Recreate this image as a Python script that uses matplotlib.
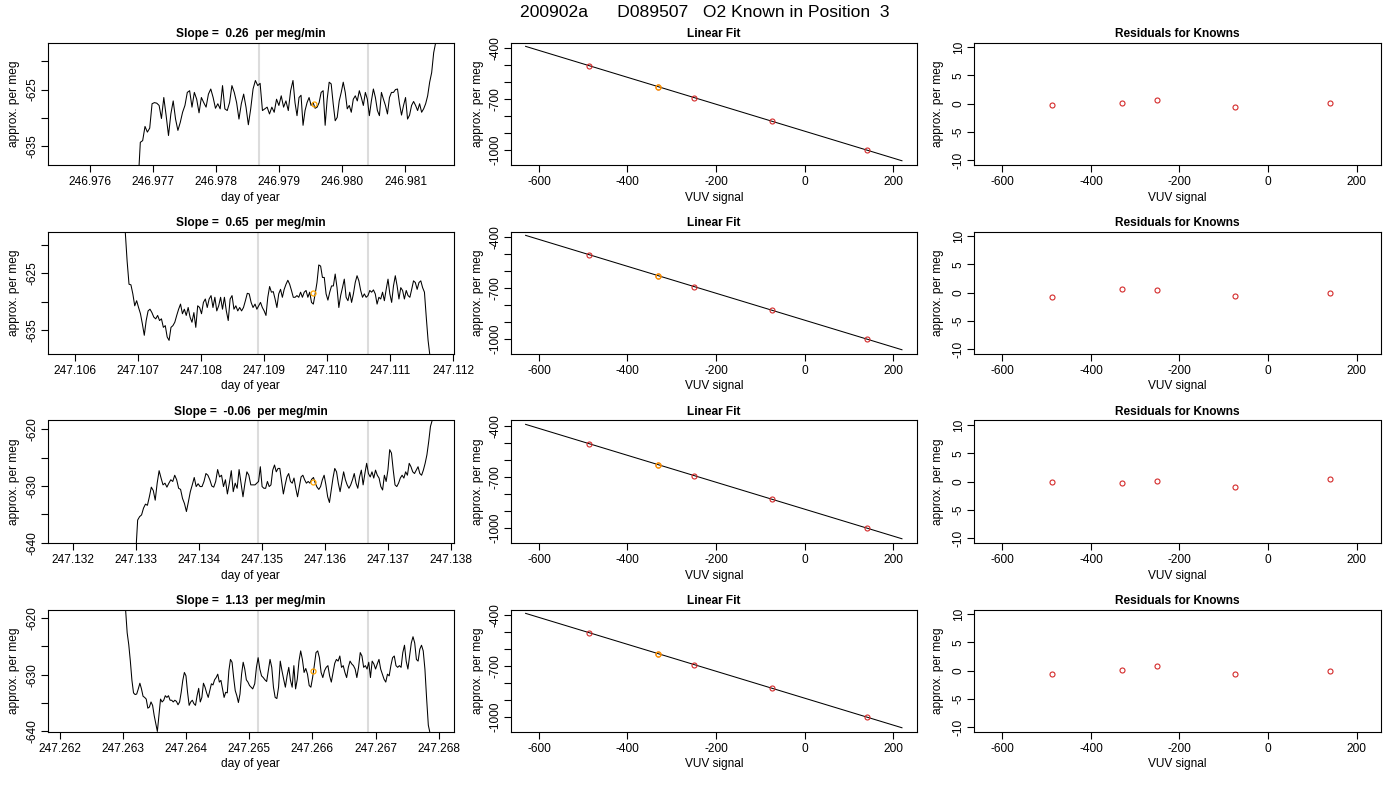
import numpy as np
import matplotlib
matplotlib.use("Agg")
import matplotlib.pyplot as plt
from matplotlib import ticker

plt.rcParams['font.family'] = ['Liberation Sans', 'DejaVu Sans']
plt.rcParams['axes.unicode_minus'] = False

# ---------------- data ----------------
main_title = "200902a      D089507   O2 Known in Position  3"
slopes = ["0.26", "0.65", "-0.06", "1.13"]

# time-series of approx. per meg (two sampled segments per row)
r1_A = [-642.0, -634.3, -634.0, -631.5, -632.5, -631.8, -627.5, -627.3, -627.4, -627.8,
        -630.1, -626.4, -629.6, -633.1, -629.3, -627.0, -630.2, -632.2, -630.8, -629.0,
        -627.8, -625.5, -625.2, -628.1, -625.5, -626.7, -629.1, -626.4, -627.3, -628.1,
        -625.8, -624.9, -626.4, -628.3, -627.5, -628.4, -624.3, -628.4, -628.7, -627.3,
        -624.3, -625.5, -627.3, -630.2, -627.5, -625.8, -628.1, -631.2, -628.4, -624.9,
        -623.4, -624.3, -623.9, -628.7, -628.4, -628.1, -629.3, -628.1, -629.0, -626.7,
        -627.8, -626.1, -628.1, -627.0, -628.7, -625.2, -623.4]
r1_B = [-627.3, -629.6, -626.4, -626.0, -631.3, -628.7, -627.3, -626.4, -627.8, -627.3,
        -628.3, -628.1, -627.3, -625.5, -625.2, -631.3, -626.7, -623.7, -624.0, -627.5,
        -630.5, -629.9, -627.0, -625.5, -623.7, -625.5, -628.4, -627.8, -629.0, -626.7,
        -626.1, -627.0, -625.2, -626.4, -627.8, -625.5, -626.7, -629.6, -627.0, -624.9,
        -626.4, -628.7, -629.6, -625.5, -626.7, -627.8, -629.3, -626.4, -625.5, -625.5,
        -625.0, -624.9, -627.5, -629.5, -627.8, -626.4, -630.2, -629.5, -627.8, -627.1,
        -627.8, -628.7, -627.5, -629.0, -628.4, -627.5, -626.1, -623.7, -622.0, -618.5,
        -616.7, -605.0]
r1_times = [246.976765, 246.979219, 246.979251, 246.981510]

r2_A = [-614.4, -617.5, -622.8, -626.9, -627.0, -628.6, -630.7, -629.8, -631.0, -632.1,
        -633.9, -635.9, -633.3, -631.6, -631.3, -631.9, -632.7, -633.0, -632.4, -633.3,
        -633.0, -634.5, -634.2, -636.2, -636.8, -634.5, -634.2, -633.6, -632.4, -631.3,
        -630.4, -632.1, -631.3, -632.4, -631.0, -632.7, -633.6, -631.9, -634.5, -630.7,
        -631.0, -632.1, -630.1, -629.5, -631.0, -629.5, -628.9, -631.0, -629.2, -631.6,
        -630.7, -629.2, -631.3, -629.2, -631.6, -633.3, -629.5, -628.9, -631.3, -630.7,
        -631.6, -631.0, -631.6, -631.0, -629.8, -628.5, -628.6, -630.1, -631.0]
r2_B = [-630.4, -631.3, -630.7, -630.1, -631.0, -631.6, -632.4, -629.2, -627.3, -628.3,
        -628.2, -629.5, -631.0, -628.6, -627.8, -629.2, -627.8, -626.9, -626.2, -626.9,
        -628.0, -629.2, -629.2, -628.9, -629.2, -628.3, -629.2, -628.3, -628.0, -629.2,
        -628.3, -630.1, -630.4, -628.6, -626.6, -623.5, -623.7, -625.7, -625.7, -628.6,
        -629.7, -628.3, -627.2, -627.2, -625.1, -627.5, -631.0, -628.9, -627.5, -626.0,
        -629.2, -629.8, -628.3, -630.1, -628.6, -626.6, -625.4, -626.3, -628.0, -629.2,
        -628.6, -629.2, -628.9, -628.0, -628.3, -627.9, -628.6, -630.4, -629.2, -629.5,
        -628.3, -629.8, -627.8, -626.0, -628.6, -630.1, -627.2, -625.4, -627.2, -629.5,
        -627.5, -628.0, -629.5, -628.0, -628.9, -629.2, -627.8, -626.3, -626.6, -627.8,
        -626.6, -626.3, -627.5, -628.3, -632.7, -636.8, -639.5, -643.4]
r2_times = [247.106773, 247.108829, 247.108861, 247.111661]

r3_A = [-642.0, -636.0, -635.4, -635.1, -633.9, -633.2, -633.4, -631.9, -630.2, -630.8,
        -632.5, -629.5, -627.3, -628.6, -629.8, -629.5, -630.2, -629.5, -628.9, -629.2,
        -628.1, -628.9, -630.4, -630.6, -632.2, -633.1, -634.5, -632.8, -631.0, -629.8,
        -628.5, -630.1, -629.6, -630.1, -630.1, -629.2, -627.8, -628.1, -628.9, -630.0,
        -630.2, -629.2, -627.1, -628.4, -628.1, -630.1, -628.9, -631.4, -629.5, -627.3,
        -631.0, -629.5, -630.4, -627.1, -629.5, -631.9, -629.5, -627.5, -628.1, -629.8,
        -629.8]
r3_B = [-629.8, -629.5, -629.2, -626.6, -630.1, -630.4, -630.4, -629.2, -630.1, -629.8,
        -627.2, -626.3, -627.5, -626.9, -626.9, -629.2, -631.4, -629.8, -628.4, -627.8,
        -629.2, -629.5, -628.6, -630.4, -631.9, -630.1, -628.4, -628.1, -628.9, -629.5,
        -629.2, -629.5, -628.8, -628.5, -629.5, -630.2, -630.6, -630.1, -628.9, -628.1,
        -629.8, -631.9, -632.9, -630.7, -628.6, -626.9, -627.5, -629.5, -631.0, -629.2,
        -627.5, -628.9, -629.8, -630.4, -629.8, -628.9, -627.8, -629.5, -630.4, -628.4,
        -627.2, -629.8, -627.8, -626.0, -627.8, -628.4, -627.5, -628.6, -627.2, -628.1,
        -628.6, -630.1, -630.7, -628.1, -629.2, -627.2, -623.6, -624.2, -627.2, -629.8,
        -630.1, -629.5, -628.6, -628.1, -628.6, -627.5, -628.1, -626.0, -626.6, -627.5,
        -627.8, -627.2, -626.6, -627.8, -628.1, -627.2, -626.0, -624.5, -622.2, -619.5,
        -618.4, -612.0]
r3_times = [247.132998, 247.134853, 247.134889, 247.137726]

r4_A = [-614.0, -618.5, -622.6, -624.7, -627.6, -631.0, -633.2, -633.5, -633.4, -632.5,
        -631.5, -632.5, -633.8, -634.0, -634.3, -635.9, -635.7, -634.8, -635.4, -637.2,
        -638.6, -640.0, -637.2, -634.3, -634.8, -634.5, -633.7, -634.0, -633.7, -634.5,
        -634.5, -634.8, -634.5, -634.7, -635.3, -634.8, -633.1, -631.0, -629.6, -630.2,
        -633.1, -635.4, -634.8, -634.5, -635.1, -635.4, -633.7, -632.4, -634.8, -634.0,
        -631.5, -632.2, -633.2, -634.0, -632.8, -631.6, -631.8, -630.9, -630.5, -629.9,
        -631.3, -631.0, -632.5, -634.0, -633.1, -633.2, -629.3, -627.3, -627.8, -630.5,
        -632.8, -633.7, -634.9, -633.4, -629.9, -627.8, -629.0, -630.9, -631.3, -631.9,
        -632.2, -632.5]
r4_B = [-631.6, -628.7, -627.0, -629.0, -630.2, -630.5, -630.9, -631.2, -629.3, -627.3,
        -628.7, -632.2, -634.0, -634.2, -632.2, -627.6, -629.3, -630.8, -632.2, -630.2,
        -628.7, -631.0, -632.2, -628.4, -632.5, -630.8, -627.6, -625.8, -627.3, -629.6,
        -628.9, -629.9, -631.9, -632.2, -630.5, -628.4, -626.1, -625.8, -627.0, -629.6,
        -630.5, -629.3, -628.7, -628.4, -630.2, -631.3, -629.6, -628.0, -627.3, -627.6,
        -626.7, -628.7, -628.4, -629.6, -630.5, -628.7, -627.6, -628.1, -628.4, -629.0,
        -630.5, -628.7, -626.1, -626.7, -628.7, -628.4, -629.0, -627.8, -630.5, -627.6,
        -628.1, -629.0, -628.1, -627.3, -629.0, -629.9, -630.8, -631.3, -629.9, -630.2,
        -628.4, -627.0, -626.7, -628.4, -628.7, -628.4, -628.7, -626.1, -624.8, -627.6,
        -629.0, -626.7, -624.4, -623.3, -624.4, -627.3, -627.6, -625.5, -624.8, -625.8,
        -629.0, -634.2, -638.9, -640.3, -645.0]
r4_times = [247.263014, 247.265054, 247.265086, 247.267891]

# window markers (gray lines) and the known sample (orange point)
window_lines = [(246.978674, 246.980410), (247.108913, 247.110656),
                (247.134941, 247.136685), (247.265143, 247.266886)]
orange_t = [246.979545, 247.109784, 247.135813, 247.266014]
orange_y = [-627.5, -628.4, -629.25, -629.3]
labeled_yticks = [[-635, -625], [-635, -625], [-640, -630, -620], [-640, -630, -620]]

# calibration knowns
known_vuv = [-487, -330, -250, -74, 140]
known_val = [-503, -629, -692, -830, -1002]
orange_vuv = -330
fit_x_range = [-630, 220]
residuals = [[-0.3, 0.2, 0.7, -0.6, 0.1],
             [-0.7, 0.7, 0.5, -0.5, 0.0],
             [0.0, -0.2, 0.2, -0.9, 0.5],
             [-0.6, 0.2, 0.9, -0.6, -0.1]]

series = [(r1_A, r1_B, r1_times), (r2_A, r2_B, r2_times),
          (r3_A, r3_B, r3_times), (r4_A, r4_B, r4_times)]

# ---------------- layout ----------------
W, H = 1400, 800
fig = plt.figure(figsize=(14, 8), dpi=100)
col_left = [47.7, 511.0, 974.0]
col_w = [406.3, 406.0, 407.0]
row_top0, row_h, row_step = 42.5, 122.5, 189.0
FS = 8.6
RED = '#d42a2a'


def make_ax(c, r):
    top = row_top0 + row_step * r
    return fig.add_axes([col_left[c] / W, 1 - (top + row_h) / H, col_w[c] / W, row_h / H])


def style(ax, c):
    for s in ax.spines.values():
        s.set_linewidth(0.8)
        s.set_color('black')
    ax.tick_params(direction='out', length=5, width=0.8, labelsize=FS, pad=3, colors='black')
    ax.tick_params(axis='y', pad=1.5)


def labels(ax, c, title, xlabel):
    wpx = col_w[c]
    ax.text(0.5, 1 + 8.5 / row_h, title, transform=ax.transAxes, ha='center', va='center',
            fontsize=FS, fontweight='bold')
    ax.text(0.5, -32.5 / row_h, xlabel, transform=ax.transAxes, ha='center', va='center',
            fontsize=FS)
    yoff = [33.7, 33.0, 36.0][c]
    ax.text(-yoff / wpx, 0.5, "approx. per meg", transform=ax.transAxes, rotation=90,
            ha='center', va='center', fontsize=FS)


def set_yt(ax, ticks, labs):
    ax.set_yticks(ticks)
    ax.set_yticklabels(labs, rotation=90, va='center')


for r in range(4):
    segA, segB, tt = series[r]
    times = np.concatenate([np.linspace(tt[0], tt[1], len(segA)),
                            np.linspace(tt[2], tt[3], len(segB))])
    vals = np.array(segA + segB)

    # ---- left: time series ----
    ax = make_ax(0, r)
    g1, g2 = window_lines[r]
    xlo, xhi = g1 - 0.003338, g2 + 0.001358
    ylo, yhi = orange_y[r] - 10.8, orange_y[r] + 10.8
    ax.axvline(g1, color='#dcdcdc', lw=1.5, zorder=1)
    ax.axvline(g2, color='#dcdcdc', lw=1.5, zorder=1)
    ax.plot(times, vals, color='black', lw=0.75, zorder=2)
    ax.plot([orange_t[r]], [orange_y[r]], 'o', mfc='none', mec='orange', ms=3.6, mew=0.9, zorder=3)
    ax.set_xlim(xlo, xhi)
    ax.set_ylim(ylo, yhi)
    xt = np.arange(np.ceil(xlo * 1000), np.floor(xhi * 1000) + 1) / 1000.0
    ax.set_xticks(xt)
    ax.set_xticklabels([f"{v:.3f}" for v in xt])
    yt = [v for v in range(-645, -610, 5) if ylo - 0.01 <= v <= yhi]
    set_yt(ax, yt, [str(v) if v in labeled_yticks[r] else "" for v in yt])
    style(ax, 0)
    labels(ax, 0, f"Slope =  {slopes[r]}  per meg/min", "day of year")

    # ---- middle: linear fit ----
    ax = make_ax(1, r)
    coef = np.polyfit(known_vuv, known_val, 1)
    fx = np.array(fit_x_range, dtype=float)
    ax.plot(fx, np.polyval(coef, fx), color='black', lw=0.75, zorder=1)
    ax.plot(known_vuv, known_val, 'o', mfc='none', mec=RED, ms=3.6, mew=0.8, zorder=2)
    ax.plot([orange_vuv], [orange_y[r]], 'o', mfc='none', mec='orange', ms=3.6, mew=0.9, zorder=3)
    ax.set_xlim(-663, 254)
    ax.set_ylim(-1090, -367)
    ax.set_xticks([-600, -400, -200, 0, 200])
    mt = list(range(-1000, -399, 100))
    set_yt(ax, mt, [str(v) if v in (-1000, -700, -400) else "" for v in mt])
    style(ax, 1)
    labels(ax, 1, "Linear Fit", "VUV signal")

    # ---- right: residuals ----
    ax = make_ax(2, r)
    ax.plot(known_vuv, residuals[r], 'o', mfc='none', mec=RED, ms=3.6, mew=0.8)
    ax.set_xlim(-664, 255)
    ax.set_ylim(-10.8, 10.8)
    ax.set_xticks([-600, -400, -200, 0, 200])
    rt = [-10, -5, 0, 5, 10]
    set_yt(ax, rt, [str(v) for v in rt])
    style(ax, 2)
    labels(ax, 2, "Residuals for Knowns", "VUV signal")

fig.text(704.5 / W, 1 - 12.5 / H, main_title, ha='center', va='center', fontsize=12.6)

fig.savefig("out.png", dpi=100)
